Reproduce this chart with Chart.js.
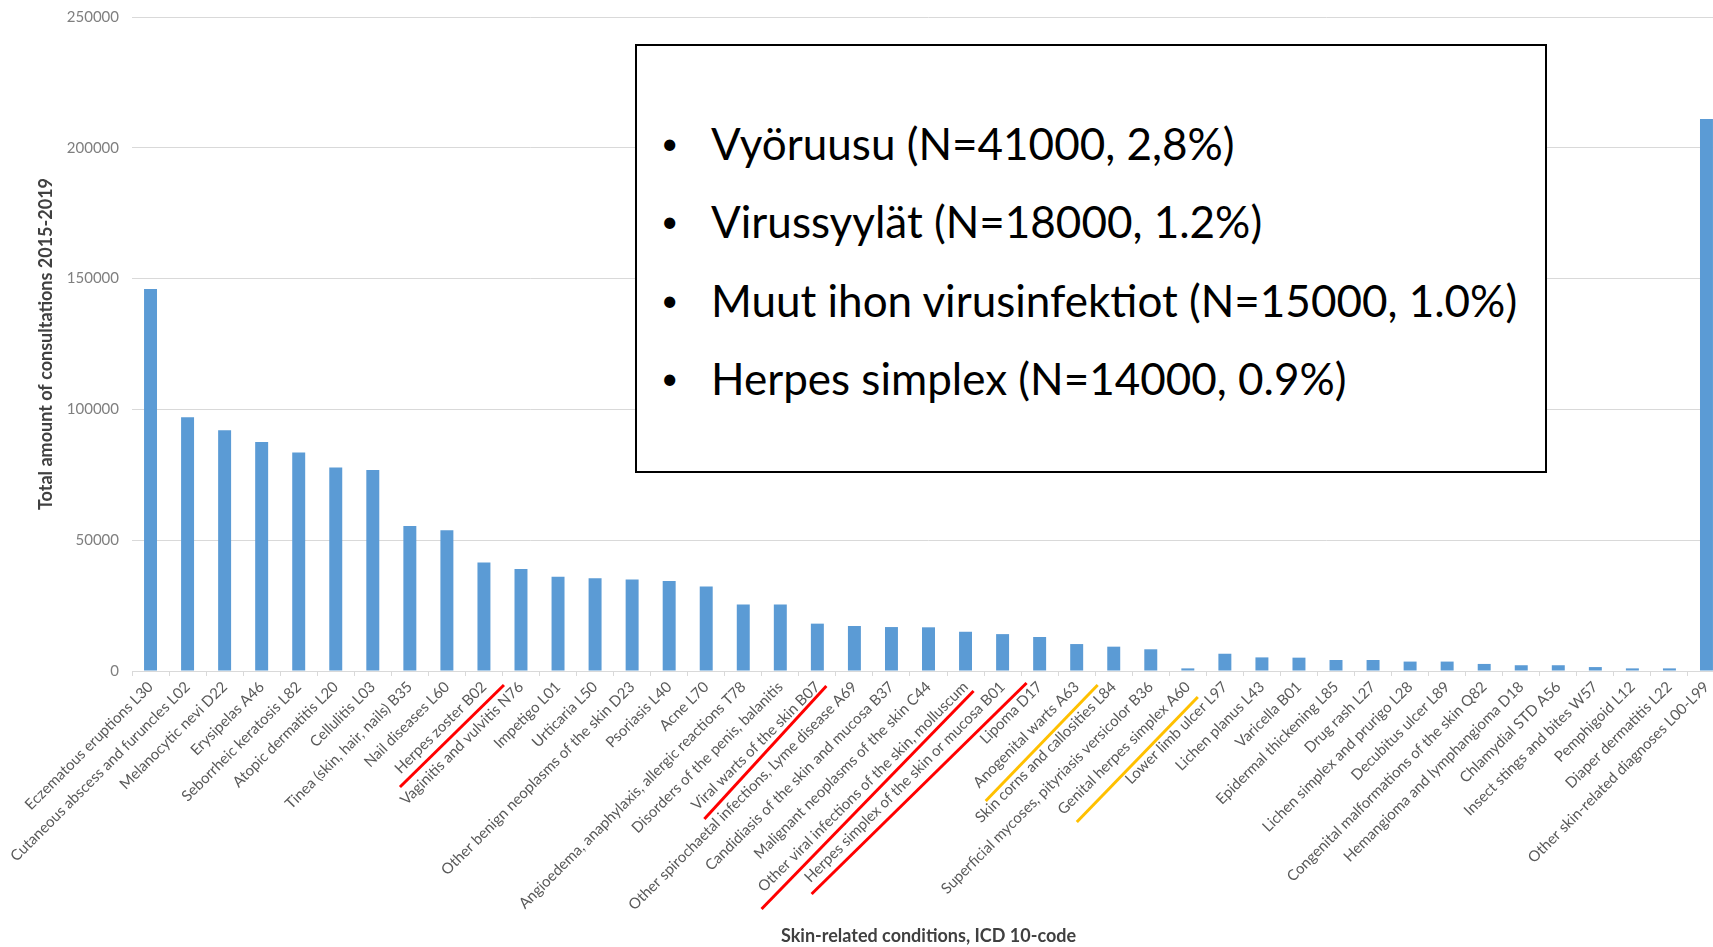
<!DOCTYPE html>
<html>
<head>
<meta charset="utf-8">
<script src="https://cdn.jsdelivr.net/npm/chart.js@4"></script>
<style>
  html, body { margin: 0; padding: 0; background: #fff; overflow: hidden; width: 1713px; height: 947px; }
  #wrap { position: absolute; left: 0; top: -5px; width: 1727px; height: 952px; }
  #note { position: absolute; left: 635px; top: 44px; width: 908px; height: 425px; border: 2px solid #000; background: #fff; font-family: Lato, "Open Sans", sans-serif; color: #000; }
  .row { position: absolute; height: 50px; line-height: 50px; font-size: 44px; white-space: nowrap; }
  .bul { position: absolute; font-size: 30px; height: 50px; line-height: 50px; }
</style>
</head>
<body>
<div id="wrap"><canvas id="c" width="1727" height="952"></canvas></div>
<div id="note"></div>
<script>
const categories = [
  "Eczematous eruptions L30",
  "Cutaneous abscess and furuncles L02",
  "Melanocytic nevi D22",
  "Erysipelas A46",
  "Seborrheic keratosis L82",
  "Atopic dermatitis L20",
  "Cellulitis L03",
  "Tinea (skin, hair, nails) B35",
  "Nail diseases L60",
  "Herpes zoster B02",
  "Vaginitis and vulvitis N76",
  "Impetigo L01",
  "Urticaria L50",
  "Other benign neoplasms of the skin D23",
  "Psoriasis L40",
  "Acne L70",
  "Angioedema, anaphylaxis, allergic reactions T78",
  "Disorders of the penis, balanitis",
  "Viral warts of the skin B07",
  "Other spirochaetal infections, Lyme disease A69",
  "Candidiasis of the skin and mucosa B37",
  "Malignant neoplasms of the skin C44",
  "Other viral infections of the skin, molluscum",
  "Herpes simplex of the skin or mucosa B01",
  "Lipoma D17",
  "Anogenital warts A63",
  "Skin corns and callosities L84",
  "Superficial mycoses, pityriasis versicolor B36",
  "Genital herpes simplex A60",
  "Lower limb ulcer L97",
  "Lichen planus L43",
  "Varicella B01",
  "Epidermal thickening L85",
  "Drug rash L27",
  "Lichen simplex and prurigo L28",
  "Decubitus ulcer L89",
  "Congenital malformations of the skin Q82",
  "Hemangioma and lymphangioma D18",
  "Chlamydial STD A56",
  "Insect stings and bites W57",
  "Pemphigoid L12",
  "Diaper dermatitis L22",
  "Other skin-related diagnoses L00-L99"
];

const consultations = [
  146000, 97000, 92000, 87500, 83500, 77800, 76800, 55400, 53800, 41500,
  39000, 36000, 35500, 35000, 34400, 32300, 25400, 25400, 18100, 17200,
  16800, 16700, 15000, 14100, 13000, 10300, 9300, 8300, 1000, 6600,
  5200, 5100, 4200, 4200, 3600, 3600, 2700, 2200, 2200, 1500,
  1000, 1000, 211000
];

const yTicks = [0, 50000, 100000, 150000, 200000, 250000];

const yTitle = "Total amount of consultations 2015-2019";
const xTitle = "Skin-related conditions, ICD 10-code";

const noteLines = [
  "Vyöruusu (N=41000, 2,8%)",
  "Virussyylät (N=18000, 1.2%)",
  "Muut ihon virusinfektiot (N=15000, 1.0%)",
  "Herpes simplex (N=14000, 0.9%)"
];

// highlighted labels: category index and colour
const markedLabels = [
  { idx: 9,  color: "#ff0000", a: [20, 14],  b: [-84, 116] },
  { idx: 18, color: "#ff0000", a: [9, 15],   b: [-113, 148] },
  { idx: 22, color: "#ff0000", a: [8, 20],   b: [-204, 238] },
  { idx: 23, color: "#ff0000", a: [24, 12],  b: [-191, 223] },
  { idx: 25, color: "#ffc000", a: [21, 14],  b: [-91, 130] },
  { idx: 28, color: "#ffc000", a: [10, 26],  b: [-111, 151] }
];

// annotation box text
const note = document.getElementById("note");
const rowTops = [72, 150, 229, 307];
noteLines.forEach((t, i) => {
  const b = document.createElement("div");
  b.className = "bul";
  b.style.left = "24px";
  b.style.top = (rowTops[i] - 1) + "px";
  b.textContent = "•";
  note.appendChild(b);
  const r = document.createElement("div");
  r.className = "row";
  r.style.left = "74px";
  r.style.top = rowTops[i] + "px";
  r.textContent = t;
  note.appendChild(r);
});

const markPlugin = {
  id: "marks",
  afterDraw(chart) {
    const ctx = chart.ctx;
    const xs = chart.scales.x;
    const y0 = chart.scales.y.getPixelForValue(0);
    ctx.save();
    ctx.lineWidth = 3;
    ctx.lineCap = "butt";
    markedLabels.forEach(m => {
      const x = xs.getPixelForValue(m.idx);
      ctx.strokeStyle = m.color;
      ctx.beginPath();
      ctx.moveTo(x + m.a[0], y0 + m.a[1]);
      ctx.lineTo(x + m.b[0], y0 + m.b[1]);
      ctx.stroke();
    });
    ctx.restore();
  }
};

new Chart(document.getElementById("c"), {
  type: "bar",
  data: {
    labels: categories,
    datasets: [{
      data: consultations,
      backgroundColor: "#5b9bd5",
      borderWidth: 0,
      barPercentage: 0.35,
      categoryPercentage: 1.0
    }]
  },
  options: {
    responsive: false,
    animation: false,
    devicePixelRatio: 1,
    layout: { padding: { top: 2, right: 2, bottom: 0, left: 0 } },
    plugins: { legend: { display: false }, tooltip: { enabled: false } },
    scales: {
      x: {
        offset: true,
        grid: { display: true, drawOnChartArea: false, drawTicks: true, tickLength: 5, color: "#d9d9d9", offset: true },
        border: { display: true, color: "#d9d9d9", width: 1 },
        ticks: {
          autoSkip: false, maxRotation: 45, minRotation: 45, padding: 2,
          color: "#595959", font: { family: "Lato", size: 15 }
        },
        title: {
          display: true, text: xTitle, color: "#404040",
          font: { family: "Lato", size: 18, weight: "bold" },
          padding: { top: 0, bottom: 0 }
        },
        afterFit(s) { s.height = 276; }
      },
      y: {
        min: 0, max: 250000,
        afterBuildTicks(s) { s.ticks = yTicks.map(v => ({ value: v })); },
        grid: { color: "#d9d9d9", drawTicks: false },
        border: { display: false },
        ticks: {
          padding: 13, color: "#7f7f7f",
          font: { family: "Lato", size: 15 },
          callback: v => String(v)
        },
        title: {
          display: true, text: yTitle, color: "#404040",
          font: { family: "Lato", size: 18, weight: "bold" },
          padding: { top: 35, bottom: 0 }
        },
        afterFit(s) { s.width = 132; }
      }
    }
  },
  plugins: [markPlugin]
});
</script>
</body>
</html>
